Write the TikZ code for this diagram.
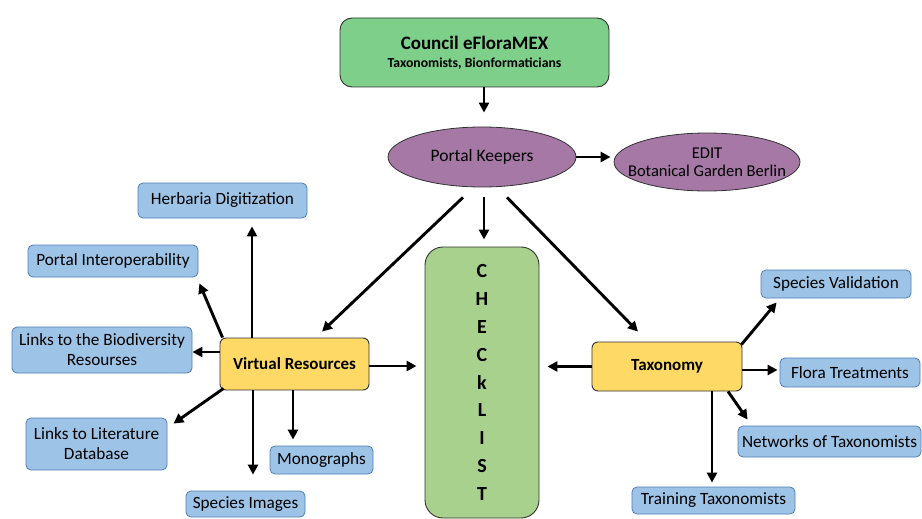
\documentclass[tikz,border=0pt]{standalone}
\usepackage{fontspec}
\setmainfont{Carlito}
\usetikzlibrary{arrows.meta, shapes.geometric}

\definecolor{councilgreen}{RGB}{125,207,137}
\definecolor{listgreen}{RGB}{169,209,142}
\definecolor{keeperpurple}{RGB}{166,120,166}
\definecolor{resblue}{RGB}{157,195,230}
\definecolor{resborder}{RGB}{79,125,181}
\definecolor{hubyellow}{RGB}{255,217,102}
\definecolor{darkline}{RGB}{50,50,50}

\tikzset{
  bluebox/.style={draw=resborder, fill=resblue, line width=0.8pt, rounded corners=5pt,
    inner sep=0pt, align=center, font=\fontsize{17.2}{20}\selectfont},
  hubbox/.style={draw=darkline, fill=hubyellow, line width=0.9pt, rounded corners=6pt,
    inner sep=0pt, align=center, font=\fontsize{17}{20}\selectfont\bfseries},
  keeper/.style={ellipse, draw=darkline, fill=keeperpurple, line width=0.8pt,
    inner sep=0pt, align=center},
  arr/.style={-{Triangle[length=10pt,width=10pt]}, line width=2.9pt}
}

\begin{document}
\begin{tikzpicture}[x=1pt, y=1pt]
  \useasboundingbox (0,0) rectangle (922,-519);

  % Top of the hierarchy
  \node[draw=darkline, fill=councilgreen, line width=0.9pt, rounded corners=12pt,
    minimum width=269, minimum height=69, inner sep=0pt, align=center,
    font=\fontsize{19}{18}\selectfont\bfseries]
    (council) at (474.5,-52.5)
    {Council eFloraMEX\\
     {\fontsize{13.7}{18}\selectfont Taxonomists, Bionformaticians}};

  \node[keeper, minimum width=188, minimum height=60, font=\fontsize{17.5}{20}\selectfont]
    (keepers) at (482,-157) {Portal Keepers};
  \node[keeper, minimum width=186, minimum height=58, inner xsep=-15pt,
    font=\fontsize{16.5}{18}\selectfont]
    (edit) at (707,-162) {EDIT\\Botanical Garden Berlin};

  % Checklist column
  \node[draw=darkline, fill=listgreen, line width=0.9pt, rounded corners=18pt,
    minimum width=114, minimum height=271, inner sep=0pt, align=center,
    font=\fontsize{20}{27.8}\selectfont\bfseries]
    (checklist) at (482,-382.5) {C\\H\\E\\C\\k\\L\\I\\S\\T};

  % Hubs
  \node[hubbox, minimum width=149, minimum height=52] (virtual) at (294.5,-364) {Virtual Resources};
  \node[hubbox, minimum width=150, minimum height=49] (taxonomy) at (667,-366.5) {Taxonomy};

  % Virtual resources
  \node[bluebox, minimum width=169, minimum height=35] (herb) at (222.5,-200.5) {Herbaria Digitization};
  \node[bluebox, minimum width=170, minimum height=32] (interop) at (113,-261) {Portal Interoperability};
  \node[bluebox, minimum width=180, minimum height=46] (biodiv) at (102,-350)
    {Links to the Biodiversity\\Resourses};
  \node[bluebox, minimum width=141, minimum height=52] (litdb) at (96.5,-444)
    {Links to Literature\\Database};
  \node[bluebox, minimum width=103, minimum height=28] (mono) at (321.5,-460) {Monographs};
  \node[bluebox, minimum width=119, minimum height=26] (images) at (245.5,-504) {Species Images};

  % Taxonomy
  \node[bluebox, minimum width=150, minimum height=28] (valid) at (836,-284) {Species Validation};
  \node[bluebox, minimum width=140, minimum height=29] (flora) at (850,-372.5) {Flora Treatments};
  \node[bluebox, minimum width=183, minimum height=31] (networks) at (829.5,-441.5) {Networks of Taxonomists};
  \node[bluebox, minimum width=163, minimum height=27] (training) at (713.5,-500.5) {Training Taxonomists};

  % Arrows
  \draw[arr, shorten >=14pt] ([xshift=9.5]council.south) -- ([xshift=2]keepers.north);
  \draw[arr, shorten >=3pt] (keepers.east) -- (keepers.east -| edit.west);
  \draw[arr] ([xshift=-19,yshift=-10]keepers.south) -- ([xshift=27.5,yshift=6]virtual.north);
  \draw[arr] ([xshift=2,yshift=-10]keepers.south) -- ([xshift=2,yshift=7]checklist.north);
  \draw[arr] ([xshift=25,yshift=-10]keepers.south) -- ([xshift=-29,yshift=10]taxonomy.north);
  \draw[arr, shorten >=8pt] ([yshift=-2]virtual.east) -- ([yshift=-2]virtual.east -| checklist.west);
  \draw[arr, shorten >=8pt] (taxonomy.west) -- (taxonomy.west -| checklist.east);

  \draw[arr, shorten >=8pt] ([xshift=-42.5]virtual.north) -- ([xshift=29.5]herb.south);
  \draw[arr] ([xshift=3]virtual.north west) -- ([xshift=1,yshift=-6]interop.south east);
  \draw[arr] ([yshift=12]virtual.west) -- ([yshift=12]virtual.west -| biodiv.east);
  \draw[arr] ([xshift=4,yshift=2]virtual.south west) -- ([xshift=6,yshift=-6]litdb.north east);
  \draw[arr, shorten >=16pt] ([xshift=-41.5]virtual.south) -- ([xshift=7.5]images.north);
  \draw[arr, shorten >=6pt] ([xshift=-1.5]virtual.south) -- ([xshift=-28.5]mono.north);

  \draw[arr] ([xshift=-1,yshift=-3]taxonomy.north east) -- ([xshift=16,yshift=-4]valid.south west);
  \draw[arr, shorten >=2pt] ([yshift=-3.5]taxonomy.east) -- ([yshift=-3.5]taxonomy.east -| flora.west);
  \draw[arr] ([xshift=61]taxonomy.south) -- ([xshift=10,yshift=6]networks.north west);
  \draw[arr, shorten >=4pt] ([xshift=45]taxonomy.south) -- ([xshift=45]taxonomy.south |- training.north);

\end{tikzpicture}
\end{document}
